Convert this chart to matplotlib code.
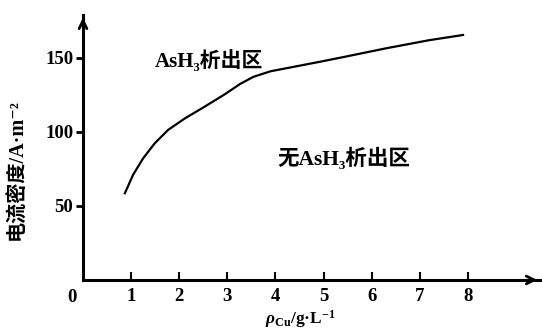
import matplotlib
matplotlib.use("Agg")
import matplotlib.pyplot as plt

# courbe
rho_cu = [0.87, 1.04, 1.25, 1.49, 1.77, 2.12, 2.53, 2.95, 3.27, 3.54, 3.9,
          4.38, 4.94, 5.4, 6.3, 7.2, 7.9]
densite = [58.6, 71, 82.2, 92.3, 101.4, 109.2, 117.1, 125.5, 132.5, 137.2, 141,
           144, 147.5, 150.5, 156.5, 162, 165.5]

x_ticks = [1, 2, 3, 4, 5, 6, 7, 8]
y_ticks = [50, 100, 150]

polices = ['Liberation Serif', 'DejaVu Serif', 'Noto Sans CJK SC']
plt.rcParams['font.family'] = polices
plt.rcParams['mathtext.fontset'] = 'custom'
plt.rcParams['mathtext.rm'] = 'Liberation Serif:bold'
plt.rcParams['mathtext.it'] = 'Liberation Serif:italic:bold'
plt.rcParams['mathtext.bf'] = 'Liberation Serif:bold'

fig = plt.figure(figsize=(5.42, 3.32), dpi=100)
ax = fig.add_axes([83 / 542, 52 / 332, 457 / 542, 265 / 332])

ax.plot(rho_cu, densite, color='black', lw=1.6)

ax.set_xlim(0, 9.5)
ax.set_ylim(0, 179)
for s in ['top', 'right']:
    ax.spines[s].set_visible(False)
for s in ['left', 'bottom']:
    ax.spines[s].set_linewidth(2.2)

# fleches des axes
ax.annotate('', xy=(1, 0), xytext=(0.97, 0), xycoords='axes fraction',
            arrowprops=dict(arrowstyle='->', lw=2, color='black', mutation_scale=14))
ax.annotate('', xy=(0, 1), xytext=(0, 0.95), xycoords='axes fraction',
            arrowprops=dict(arrowstyle='->', lw=2, color='black', mutation_scale=14))

ax.set_xticks(x_ticks)
ax.set_xticklabels([str(v) for v in x_ticks], fontsize=13.5, fontweight='bold')
ax.set_yticks(y_ticks)
ax.set_yticklabels([str(v) for v in y_ticks], fontsize=13.5, fontweight='bold')
ax.tick_params(axis='x', direction='in', length=6, width=1.5, pad=6)
ax.tick_params(axis='y', direction='out', length=5, width=2, pad=2)

fig.text(72 / 542, 1 - 297 / 332, '0', fontsize=13.5, fontweight='bold',
         ha='center', va='center')

ax.text(1.5, 148, 'AsH₃析出区', fontsize=15, fontweight='bold', va='center')
ax.text(4.05, 82, '无AsH₃析出区', fontsize=15.5, fontweight='bold', va='center')

fig.text(18 / 542, 1 - 170 / 332, '电流密度/A·m⁻²', fontsize=14.5, fontweight='bold',
         rotation=90, ha='center', va='center')
fig.text(300 / 542, 1 - 319 / 332, r'$\rho_{\rm Cu}$/g·L$^{-1}$', fontsize=12.5,
         fontweight='bold', ha='center', va='center')

fig.savefig('out.png', dpi=100)
